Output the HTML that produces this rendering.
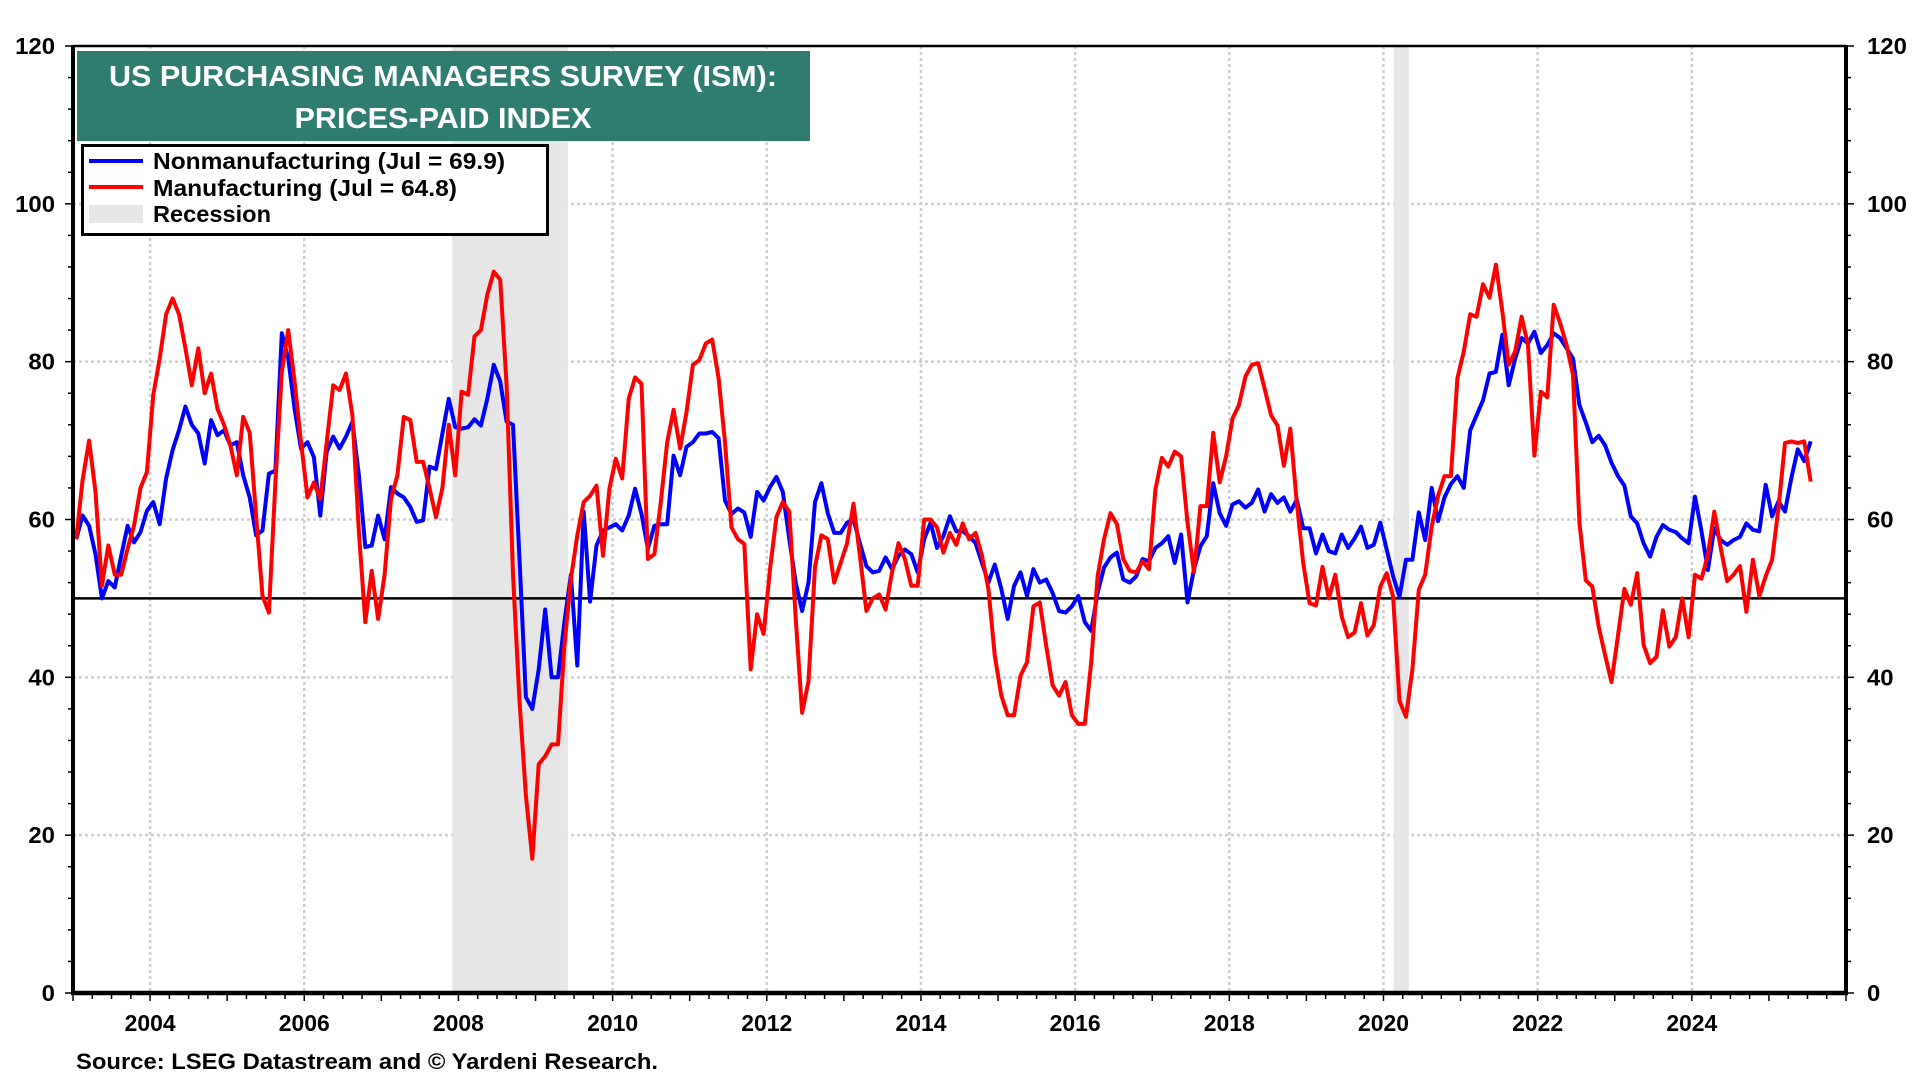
<!DOCTYPE html>
<html><head><meta charset="utf-8"><style>
html,body{margin:0;padding:0;background:#fff;}
svg{display:block;font-family:"Liberation Sans",Arial,sans-serif;}
</style></head><body>
<svg id="chart" width="1920" height="1080" viewBox="0 0 1920 1080">
<g id="grid"></g>
<g id="rec"></g>
<g id="series"></g>
<g id="axes"></g>
<g>
<rect x="77" y="51" width="733" height="90" fill="#2e7d70"/>
<text x="443" y="86" text-anchor="middle" fill="#fff" font-weight="bold" font-size="29" textLength="668" lengthAdjust="spacingAndGlyphs">US PURCHASING MANAGERS SURVEY (ISM):</text>
<text x="443" y="128" text-anchor="middle" fill="#fff" font-weight="bold" font-size="29" textLength="297" lengthAdjust="spacingAndGlyphs">PRICES-PAID INDEX</text>
</g>
<g>
<rect x="82.5" y="145.5" width="465" height="89" fill="#fff" stroke="#000" stroke-width="3"/>
<g>
<line x1="89" y1="161" x2="143" y2="161" stroke="#0000ff" stroke-width="4"/>
<text x="153" y="169" font-weight="bold" font-size="23" textLength="352" lengthAdjust="spacingAndGlyphs">Nonmanufacturing  (Jul = 69.9)</text>
</g>
<g>
<line x1="89" y1="187" x2="143" y2="187" stroke="#ff0000" stroke-width="4"/>
<text x="153" y="196" font-weight="bold" font-size="23" textLength="304" lengthAdjust="spacingAndGlyphs">Manufacturing  (Jul = 64.8)</text>
</g>
<g>
<rect x="89" y="205" width="54" height="18" fill="#e6e6e6"/>
<text x="153" y="222" font-weight="bold" font-size="23" textLength="118" lengthAdjust="spacingAndGlyphs">Recession</text>
</g>
</g>
<text x="76" y="1069" font-weight="bold" font-size="22" textLength="582" lengthAdjust="spacingAndGlyphs">Source: LSEG Datastream and © Yardeni Research.</text>
</svg>
<script>
const startYear = 2003;
const nonmfg = [
57.5,60.5,59.2,55.6,50,52.2,51.4,55.4,59.2,57.1,58.4,61.1,
62.2,59.4,65.2,68.8,71.3,74.3,72,70.9,67.1,72.6,70.7,71.3,
69.4,69.8,65.6,62.8,58,58.6,65.8,66.2,83.6,80.4,74,69,
69.8,67.9,60.5,68.6,70.5,69,70.5,72.4,65.6,56.5,56.7,60.5,
57.5,64.1,63.3,62.8,61.6,59.7,59.9,66.7,66.4,70.9,75.3,71.7,
71.5,71.7,72.7,71.9,75.3,79.6,77.5,72.4,72,55,37.5,36,
41,48.6,40,40,47,53,41.5,61,49.6,56.7,58.6,59,
59.4,58.6,60.5,63.9,60.7,56.3,59.2,59.4,59.4,68.1,65.6,69.2,
69.8,70.9,70.9,71.1,70.3,62.4,60.7,61.4,60.9,57.8,63.5,62.4,
64.1,65.4,63.5,57.5,52,48.4,52,62.2,64.6,60.8,58.3,58.3,
59.6,60,57,54.1,53.3,53.5,55.2,53.7,55.4,56.2,55.6,53.3,
57.5,59.6,56.4,57.9,60.4,58.5,58.5,57.9,57,54.5,52,54.3,
51.2,47.4,51.6,53.3,50.3,53.7,52,52.4,50.7,48.4,48.2,49,
50.3,47,45.9,50.7,53.9,55.2,55.8,52.4,52,52.8,55,54.7,
56.4,57,57.9,54.5,58.1,49.5,53.7,56.6,57.9,64.6,60.8,59.2,
61.9,62.3,61.5,62.1,63.8,61,63.2,62.1,62.8,61,62.5,58.9,
58.9,55.7,58.1,56,55.7,58.1,56.4,57.6,59.1,56.4,56.8,59.6,
56.2,52.8,50.2,54.9,54.9,60.9,57.4,64,59.8,62.8,64.5,65.5,
64,71.3,73.2,75.1,78.5,78.7,83.4,77,80.4,83,82.3,83.8,
81.1,82.1,83.6,83,81.7,80.4,74.5,72.3,69.8,70.6,69.4,67.2,
65.5,64.3,60.4,59.5,57,55.3,57.8,59.3,58.7,58.4,57.6,57,
62.9,58.5,53.6,58.9,57.4,56.8,57.4,57.8,59.5,58.7,58.5,64.4,
60.4,62.3,61,65.3,68.9,67.4,69.9];
const mfg = [
57.5,65,70,63.5,51.6,56.7,53,53,56.3,59.2,64,66,
75.8,80.4,86,88,86,81.7,77,81.7,76,78.5,74,72,
69.4,65.6,73,71,60.5,50.3,48.2,64.7,78.7,84,77.5,69.8,
62.8,64.7,62.6,69.8,77,76.4,78.5,73.2,58.4,47,53.5,47.4,
53,62.6,65.6,73,72.6,67.3,67.3,64,60.3,64,72,65.6,
76.2,75.8,83.2,84,88.5,91.4,90.4,77,53,37,25,17,
29,30,31.5,31.5,44,52.5,58,62.2,63,64.3,55.4,63.9,
67.7,65.2,75.3,78,77.2,55,55.6,62.2,69.8,73.9,69,73.6,
79.6,80.2,82.3,82.8,77.9,69.8,59,57.5,56.9,41,48,45.5,
53.7,60.3,62.2,61,47.5,35.5,39.5,54,58,57.5,52,54.5,
57,62,55.4,48.4,50,50.5,48.6,53.3,57,55,51.6,51.6,
60,60,59,55.8,58.3,56.8,59.5,57.5,58.3,55.4,51.2,42.7,
37.7,35.2,35.2,40.2,41.9,49,49.5,44,39,37.7,39.4,35.2,
34.1,34.1,41.9,52.8,57.5,60.8,59.4,55,53.5,53.3,54.7,53.7,
63.8,67.8,66.7,68.6,68,59.6,53.3,61.7,61.7,71,64.7,68,
72.8,74.5,78.1,79.6,79.8,76.6,73.2,71.9,66.8,71.5,62.1,54.5,
49.4,49.1,54,50,53,47.7,45.1,45.7,49.4,45.3,46.6,51.5,
53.2,50.2,37,35,41,51.1,53,59.1,63,65.5,65.5,77.9,
81.3,86,85.7,89.8,88.1,92.3,86.4,79.6,81.3,85.7,82.1,68.1,
76.2,75.5,87.2,84.9,82.1,78.3,59.6,52.3,51.5,46.4,42.8,39.4,
45.3,51.2,49.2,53.2,44.1,41.8,42.6,48.5,43.9,45.1,50,45.1,
53,52.5,55.5,61,56.4,52.2,53,54.1,48.3,54.9,50.3,52.8,
54.9,61.5,69.7,69.9,69.7,69.9,64.8];
const recStarts = [2007.92, 2020.13];
const recEnds = [2009.42, 2020.33];
const yTicks = [0,20,40,60,80,100,120];
const xYears = [2004,2006,2008,2010,2012,2014,2016,2018,2020,2022,2024];
const refLevel = 50;

const L=73, R=1846, T=46, B=993, X0=2003, X1=2026, YMAX=120;
const x = t => L + (t - X0) / (X1 - X0) * (R - L);
const y = v => B - v / YMAX * (B - T);
const NS='http://www.w3.org/2000/svg';
function mk(tag, attrs, parent){const e=document.createElementNS(NS,tag);for(const k in attrs)e.setAttribute(k,attrs[k]);parent.appendChild(e);return e;}
const grid=document.getElementById('grid'), rec=document.getElementById('rec'), ser=document.getElementById('series'), ax=document.getElementById('axes');

for(let i=0;i<recStarts.length;i++){
  const r=mk('rect',{x:x(recStarts[i]),y:T,width:x(recEnds[i])-x(recStarts[i]),height:B-T,fill:'#e6e6e6'},rec);
  
  
}
yTicks.forEach(v=>{
  if(v>0&&v<YMAX){const g=mk('line',{x1:L,x2:R,y1:y(v),y2:y(v),stroke:'#cfcfcf','stroke-width':2.5,'stroke-dasharray':'3 3'},grid);
  
  }
});
xYears.forEach(yr=>{
  const g=mk('line',{x1:x(yr),x2:x(yr),y1:T,y2:B,stroke:'#cfcfcf','stroke-width':2.5,'stroke-dasharray':'3 3'},grid);
  
  
});
function path(arr,color,name){
  let d='';
  arr.forEach((v,i)=>{const t=startYear+(i+0.5)/12;d+=(i?'L':'M')+x(t).toFixed(1)+','+y(v).toFixed(1);});
  const p=mk('path',{d:d,fill:'none',stroke:color,'stroke-width':4,'stroke-linejoin':'round'},ser);
  
  
}
const ref=mk('line',{x1:L,x2:R,y1:y(refLevel),y2:y(refLevel),stroke:'#000','stroke-width':2.5},ser);


path(nonmfg,'#0000ff','nonmanufacturing-line');
path(mfg,'#ff0000','manufacturing-line');

mk('line',{x1:L,x2:R,y1:T,y2:T,stroke:'#000','stroke-width':2.5},ax);
mk('line',{x1:L,x2:L,y1:T-1,y2:B+2,stroke:'#000','stroke-width':4},ax);
mk('line',{x1:R,x2:R,y1:T-1,y2:B+2,stroke:'#000','stroke-width':4},ax);
mk('line',{x1:L-2,x2:R+2,y1:B,y2:B,stroke:'#000','stroke-width':4.5},ax);
for(let v=0;v<=YMAX;v+=4){
  const major=v%20===0;const len=major?8:5;
  mk('line',{x1:L-len,x2:L,y1:y(v),y2:y(v),stroke:'#000','stroke-width':1.5},ax);
  mk('line',{x1:R,x2:R+len,y1:y(v),y2:y(v),stroke:'#000','stroke-width':1.5},ax);
}
for(let q=X0;q<=X1+0.001;q+=0.25){
  mk('line',{x1:x(q),x2:x(q),y1:B,y2:B+(Math.abs(q-Math.round(q))<0.01?8:6),stroke:'#000','stroke-width':1.5},ax);
}
yTicks.forEach(v=>{
  const w = String(v).length*13.3;
  const a=mk('text',{x:55,y:y(v)+8,'text-anchor':'end','font-size':23,'font-weight':'bold',textLength:w,lengthAdjust:'spacingAndGlyphs'},ax);
  a.textContent=v;
  
  
  const b=mk('text',{x:1867,y:y(v)+8,'font-size':23,'font-weight':'bold',textLength:w,lengthAdjust:'spacingAndGlyphs'},ax);
  b.textContent=v;
  
  
});
xYears.forEach(yr=>{
  const a=mk('text',{x:x(yr),y:1031,'text-anchor':'middle','font-size':23,'font-weight':'bold',textLength:51,lengthAdjust:'spacingAndGlyphs'},ax);
  a.textContent=yr;
  
  
});
</script>
</body></html>
